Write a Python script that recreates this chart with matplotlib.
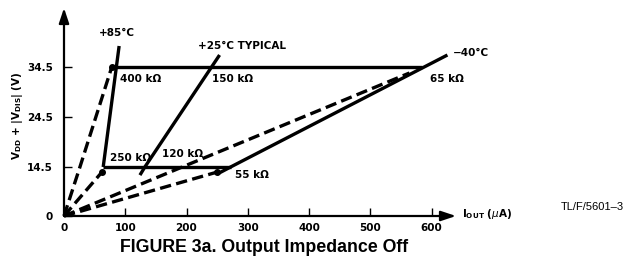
import numpy as np
import matplotlib
matplotlib.use("Agg")
import matplotlib.pyplot as plt

# ---- data ----
# solid curves (I_OUT in uA, V in volts)
s85_x = [64, 90];           s85_y = [14.5, 38.7]
s25_x = [124, 132, 254];    s25_y = [12.1, 14.5, 36.9]
s40_x = [250, 272, 626];    s40_y = [12.4, 14.5, 36.9]
h345_x = [85, 584];         h345_y = [34.5, 34.5]
h145_x = [64, 272];         h145_y = [14.5, 14.5]
# dashed curves from origin
d85a_x = [0, 26, 78];       d85a_y = [0, 14.5, 34.5]
d85b_x = [0, 62];           d85b_y = [0, 13.0]
d40a_x = [0, 250];          d40a_y = [0, 13.0]
d40b_x = [0, 193, 564];     d40b_y = [0, 14.5, 33.3]
dot_x = [78, 62, 250]
dot_y = [34.5, 13.0, 13.0]

x_ticks = [0, 100, 200, 300, 400, 500, 600]
y_ticks = [0, 14.5, 24.5, 34.5]
y_ticklabels = ["0", "14.5", "24.5", "34.5"]

labels = [  # text, x, y, ha
    ("+85°C", 86, 41.3, "center"),
    ("+25°C TYPICAL", 219, 38.7, "left"),
    ("−40°C", 635, 37.3, "left"),
    ("400 kΩ", 91, 32.1, "left"),
    ("150 kΩ", 241, 32.1, "left"),
    ("65 kΩ", 597, 32.1, "left"),
    ("250 kΩ", 75, 16.3, "left"),
    ("120 kΩ", 160, 17.1, "left"),
    ("55 kΩ", 279, 12.1, "left"),
]

fam = ["Liberation Sans Narrow", "DejaVu Sans"]
fp_b = dict(family=fam, weight="bold")

# piecewise-linear vertical scale (0..14.5 compressed)
def fwd(y):
    y = np.asarray(y, dtype=float)
    return np.where(y <= 14.5, y * (49.0 / 14.5), 49.0 + (y - 14.5) * 5.0)

def inv(u):
    u = np.asarray(u, dtype=float)
    return np.where(u <= 49.0, u * (14.5 / 49.0), 14.5 + (u - 49.0) / 5.0)

fig = plt.figure(figsize=(6.25, 2.69), dpi=100)
ax = fig.add_axes([64 / 625, 53 / 269, (456 - 64) / 625, (216 - 8) / 269])
ax.set_yscale("function", functions=(fwd, inv))
ax.set_xlim(0, 640)
ax.set_ylim(0, 46.3)

lw = 2.4
for xs, ys in [(s85_x, s85_y), (s25_x, s25_y), (s40_x, s40_y),
               (h345_x, h345_y), (h145_x, h145_y)]:
    ax.plot(xs, ys, color="black", lw=lw, solid_capstyle="butt", clip_on=False)
for xs, ys in [(d85a_x, d85a_y), (d85b_x, d85b_y), (d40a_x, d40a_y), (d40b_x, d40b_y)]:
    ax.plot(xs, ys, color="black", lw=lw, linestyle=(0, (3.4, 1.6)), clip_on=False)
ax.plot(dot_x, dot_y, "o", color="black", ms=4, clip_on=False)

for t, x, y, ha in labels:
    ax.text(x, y, t, ha=ha, va="center", fontsize=7.5, **fp_b)

for s in ax.spines.values():
    s.set_visible(False)
ax.annotate("", xy=(1, 0), xytext=(0, 0), xycoords="axes fraction",
            arrowprops=dict(arrowstyle="-|>,head_length=0.9,head_width=0.3", lw=1.6,
                            color="black", shrinkA=0, shrinkB=0))
ax.annotate("", xy=(0, 1), xytext=(0, 0), xycoords="axes fraction",
            arrowprops=dict(arrowstyle="-|>,head_length=0.9,head_width=0.3", lw=1.6,
                            color="black", shrinkA=0, shrinkB=0))

ax.set_xticks(x_ticks)
ax.set_xticklabels([str(v) for v in x_ticks])
ax.set_yticks(y_ticks)
ax.set_yticklabels(y_ticklabels)
ax.minorticks_off()
ax.tick_params(axis="both", direction="in", length=6, width=1, labelsize=7.5)
ax.tick_params(axis="y", pad=8)
ax.tick_params(axis="x", pad=5)
for lab in ax.get_xticklabels() + ax.get_yticklabels():
    lab.set_family(fam)
    lab.set_weight("bold")

ax.text(650, 0.5, r"I$_{\mathregular{OUT}}$ ($\mu$A)", ha="left", va="center",
        fontsize=7.5, clip_on=False, **fp_b)
fig.text(18 / 625, 1 - 116 / 269,
         r"V$_{\mathregular{DD}}$ + |V$_{\mathregular{DIS}}$| (V)",
         rotation=90, ha="center", va="center", fontsize=7.5, **fp_b)

fig.text(264 / 625, 1 - 248 / 269, "FIGURE 3a. Output Impedance Off",
         ha="center", va="center", fontsize=12.8, family=["Liberation Sans", "DejaVu Sans"],
         weight="bold")
fig.text(592 / 625, 1 - 207 / 269, "TL/F/5601–3", ha="center", va="center",
         fontsize=8, family=["Liberation Sans", "DejaVu Sans"])

fig.savefig("out.png", dpi=100)
